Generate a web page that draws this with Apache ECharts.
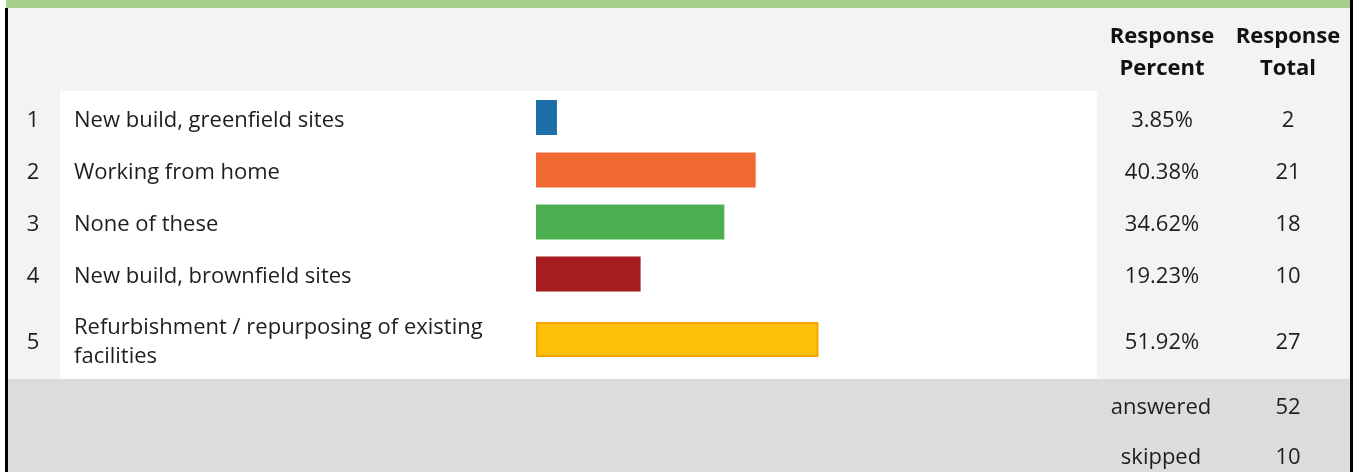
<!DOCTYPE html>
<html>
<head>
<meta charset="utf-8">
<script src="https://cdn.jsdelivr.net/npm/echarts@6/dist/echarts.min.js"></script>
<style>
  html, body { margin: 0; padding: 0; background: #fff; }
  #chart { width: 1359px; height: 472px; }
</style>
</head>
<body>
<div id="chart"></div>
<script>
// data
const rowNumbers = ['1', '2', '3', '4', '5']
const answers = [
  'New build, greenfield sites',
  'Working from home',
  'None of these',
  'New build, brownfield sites',
  'Refurbishment / repurposing of existing facilities'
]
const responsePercent = [3.85, 40.38, 34.62, 19.23, 51.92]
const responseTotal = [2, 21, 18, 10, 27]
const barColors = ['#1c6fa8', '#f06933', '#4caf50', '#a51d1f', '#fdbf08']
const headers = ['Response\nPercent', 'Response\nTotal']
const summaryLabels = ['answered', 'skipped']
const summaryValues = [52, 10]

// row layout (px)
const rowTops = [91, 144, 196, 248, 300]
const rowHeights = [53, 52, 52, 52, 79]
const FONT = '"Open Sans", "Noto Sans", sans-serif'
const FS = 22
const plotLeft = 536
const plotRight = 1359 - 1080

const chart = echarts.init(document.getElementById('chart'))

const grids = [], xAxes = [], yAxes = [], series = []
answers.forEach((name, i) => {
  grids.push({left: plotLeft, right: plotRight, top: rowTops[i], height: rowHeights[i]})
  xAxes.push({type: 'value', gridIndex: i, min: 0, max: 100, show: false})
  const baseY = {
    type: 'category', gridIndex: i, data: [name],
    axisLine: {show: false}, axisTick: {show: false}, splitLine: {show: false}
  }
  // text sits a few px below the bar centre in the original
  const txt = {
    fontFamily: FONT, fontSize: FS, color: '#1e1e1e',
    rich: {t: {fontFamily: FONT, fontSize: FS, color: '#1e1e1e', padding: [6, 0, 0, 0], lineHeight: 29}}
  }
  // row number
  yAxes.push(Object.assign({}, baseY, {
    position: 'left',
    axisLabel: Object.assign({
      formatter: () => '{t|' + rowNumbers[i] + '}', align: 'center', margin: plotLeft - 33
    }, txt)
  }))
  // answer text
  yAxes.push(Object.assign({}, baseY, {
    position: 'left',
    axisLabel: Object.assign({
      align: 'left', margin: plotLeft - 74, width: 440, overflow: 'break', lineHeight: 29
    }, txt, {padding: [6, 0, 0, 0]})
  }))
  // percent
  yAxes.push(Object.assign({}, baseY, {
    position: 'right',
    axisLabel: Object.assign({
      formatter: () => '{t|' + responsePercent[i].toFixed(2) + '%}', align: 'center', margin: 1162 - 1080
    }, txt)
  }))
  // total
  yAxes.push(Object.assign({}, baseY, {
    position: 'right',
    axisLabel: Object.assign({
      formatter: () => '{t|' + responseTotal[i] + '}', align: 'center', margin: 1288 - 1080
    }, txt)
  }))
  const isLast = i === answers.length - 1
  series.push({
    type: 'bar', xAxisIndex: i, yAxisIndex: i * 4 + 1,
    barWidth: 35, silent: true,
    data: [responsePercent[i]],
    itemStyle: {
      color: barColors[i],
      borderColor: isLast ? '#f7a300' : barColors[i],
      borderWidth: isLast ? 2 : 0
    }
  })
})

const graphic = [
  // backgrounds
  {type: 'rect', shape: {x: 8, y: 8, width: 1342, height: 372}, style: {fill: '#f3f3f2'}, z: -10},
  {type: 'rect', shape: {x: 60, y: 91, width: 1037, height: 288}, style: {fill: '#ffffff'}, z: -9},
  {type: 'rect', shape: {x: 8, y: 379, width: 1342, height: 93}, style: {fill: '#dcdcdc'}, z: -9},
  {type: 'rect', shape: {x: 6, y: 0, width: 1346, height: 8}, style: {fill: '#a8d08d'}, z: -8},
  {type: 'rect', shape: {x: 5, y: 8, width: 3, height: 464}, style: {fill: '#000'}, z: -8},
  {type: 'rect', shape: {x: 1350, y: 0, width: 3, height: 472}, style: {fill: '#000'}, z: -8}
]
const headerX = [1162, 1288]
headers.forEach((h, k) => {
  graphic.push({
    type: 'text', x: headerX[k], y: 53,
    style: {
      text: h, align: 'center', verticalAlign: 'middle', lineHeight: 32,
      font: 'bold ' + FS + 'px ' + FONT, fill: '#111'
    }
  })
})
const summaryY = [408, 458]
summaryLabels.forEach((lab, k) => {
  graphic.push({
    type: 'text', x: 1161, y: summaryY[k],
    style: {text: lab, align: 'center', verticalAlign: 'middle', font: FS + 'px ' + FONT, fill: '#1e1e1e'}
  })
  graphic.push({
    type: 'text', x: 1288, y: summaryY[k],
    style: {text: String(summaryValues[k]), align: 'center', verticalAlign: 'middle', font: FS + 'px ' + FONT, fill: '#1e1e1e'}
  })
})

chart.setOption({
  animation: false,
  grid: grids,
  xAxis: xAxes,
  yAxis: yAxes,
  series: series,
  graphic: graphic
})
</script>
</body>
</html>
